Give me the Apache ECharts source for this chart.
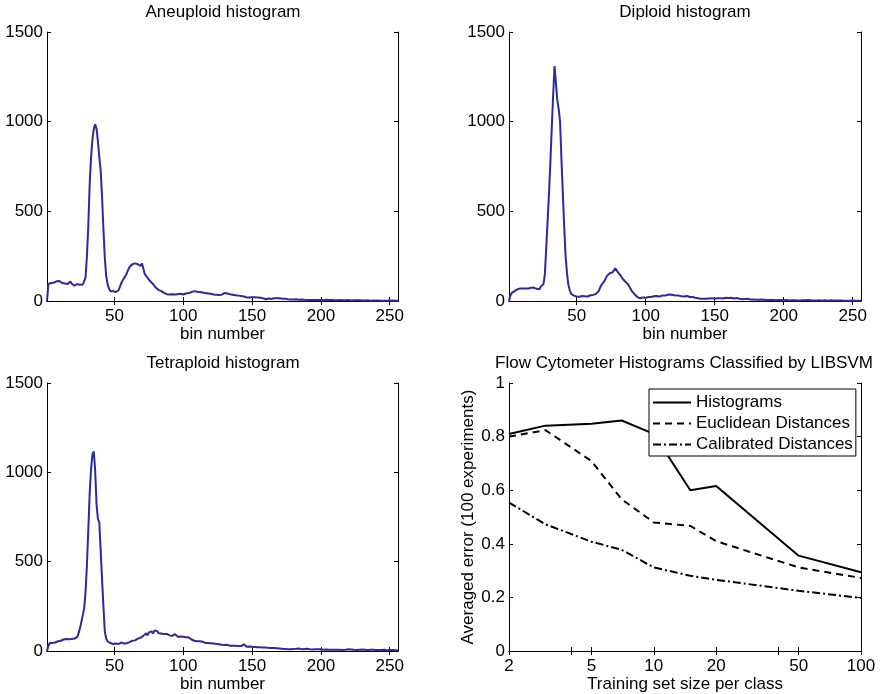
<!DOCTYPE html>
<html>
<head>
<meta charset="utf-8">
<script src="https://cdn.jsdelivr.net/npm/echarts@6/dist/echarts.min.js"></script>
<style>
  html, body { margin: 0; padding: 0; background: #fff; }
  #view { width: 882px; height: 694px; }
</style>
</head>
<body>
<div id="view"></div>
<script>
// histogram counts per bin (bins 1..256)
var aneuploid = [
    0, 95, 98, 100, 97, 102, 105, 110, 104, 112,
    108, 100, 110, 98, 105, 95, 100, 108, 96, 90,
    85, 92, 95, 88, 90, 93, 92, 95, 130, 250,
    420, 650, 800, 900, 960, 985, 960, 890, 800, 730,
    580, 400, 240, 140, 95, 70, 55, 50, 55, 48,
    50, 55, 60, 80, 100, 115, 125, 140, 155, 175,
    190, 180, 205, 212, 210, 208, 205, 200, 195, 210,
    205, 150, 140, 130, 120, 110, 100, 95, 85, 75,
    70, 62, 60, 55, 50, 45, 40, 38, 35, 36,
    34, 38, 35, 36, 40, 38, 35, 40, 38, 36,
    40, 42, 45, 44, 48, 50, 52, 55, 50, 52,
    48, 50, 45, 47, 42, 44, 40, 42, 38, 40,
    38, 36, 40, 35, 38, 34, 36, 35, 38, 45,
    48, 42, 40, 38, 36, 35, 34, 32, 34, 30,
    30, 28, 26, 25, 22, 20, 22, 20, 22, 21,
    20, 21, 18, 20, 22, 18, 17, 15, 12, 10,
    12, 14, 10, 11, 12, 15, 18, 16, 14, 15,
    12, 13, 10, 12, 11, 10, 12, 9, 10, 8,
    9, 10, 8, 7, 8, 9, 6, 7, 8, 6,
    7, 6, 8, 5, 7, 6, 5, 6, 7, 5,
    6, 4, 5, 7, 5, 6, 4, 5, 6, 4,
    5, 4, 6, 5, 3, 4, 5, 4, 3, 5,
    4, 3, 5, 4, 3, 4, 3, 4, 5, 3,
    4, 3, 2, 4, 3, 2, 4, 3, 2, 3,
    2, 3, 4, 2, 3, 2, 3, 2, 3, 2,
    2, 3, 2, 2, 3, 2
];
var diploid = [
    0, 30, 45, 50, 55, 62, 65, 68, 70, 68,
    70, 72, 70, 72, 70, 72, 74, 72, 75, 70,
    68, 75, 65, 80, 85, 95, 150, 300, 450, 600,
    780, 970, 1150, 1310, 1320, 1120, 1070, 1000, 790, 600,
    415, 250, 155, 90, 60, 40, 33, 30, 28, 25,
    26, 24, 25, 28, 24, 26, 28, 25, 30, 32,
    30, 34, 36, 40, 45, 55, 75, 90, 95, 110,
    125, 140, 150, 155, 165, 160, 170, 182, 175, 160,
    150, 140, 128, 120, 110, 105, 95, 85, 70, 55,
    45, 38, 30, 22, 18, 15, 17, 20, 22, 18,
    20, 22, 25, 22, 24, 26, 25, 28, 26, 25,
    28, 30, 32, 30, 33, 35, 34, 36, 35, 33,
    32, 30, 28, 30, 28, 26, 27, 25, 26, 28,
    24, 22, 20, 22, 20, 18, 16, 15, 14, 13,
    12, 13, 14, 12, 15, 14, 13, 16, 15, 12,
    14, 15, 13, 16, 18, 14, 15, 18, 20, 17,
    22, 18, 15, 14, 20, 17, 15, 13, 12, 10,
    12, 11, 10, 12, 9, 8, 10, 9, 8, 7,
    8, 7, 9, 8, 6, 7, 6, 5, 7, 6,
    5, 6, 5, 4, 6, 5, 4, 5, 6, 4,
    4, 5, 4, 3, 5, 4, 3, 4, 5, 3,
    4, 3, 5, 4, 3, 4, 3, 5, 4, 3,
    4, 3, 4, 3, 2, 4, 3, 2, 3, 4,
    3, 2, 3, 4, 2, 3, 2, 3, 2, 3,
    2, 3, 2, 2, 3, 2, 3, 2, 2, 3,
    2, 2, 3, 2, 2, 1
];
var tetraploid = [
    0, 30, 45, 48, 46, 50, 48, 52, 55, 60,
    58, 62, 65, 62, 68, 70, 66, 70, 68, 72,
    70, 72, 80, 100, 130, 165, 200, 240, 330, 480,
    680, 880, 1020, 1100, 1117, 1010, 820, 740, 720, 560,
    400, 250, 110, 70, 55, 50, 45, 42, 40, 44,
    42, 38, 40, 45, 48, 44, 42, 40, 44, 46,
    50, 55, 58, 62, 60, 66, 70, 72, 75, 80,
    85, 90, 100, 88, 105, 95, 110, 98, 115, 105,
    112, 100, 105, 98, 100, 95, 92, 96, 90, 88,
    92, 85, 88, 95, 84, 80, 78, 82, 76, 80,
    75, 78, 72, 76, 68, 65, 62, 58, 60, 55,
    52, 55, 50, 52, 48, 46, 48, 45, 42, 44,
    40, 42, 38, 40, 37, 38, 36, 35, 37, 34,
    33, 35, 32, 30, 31, 30, 28, 30, 27, 28,
    26, 28, 32, 38, 28, 25, 24, 26, 22, 24,
    22, 23, 21, 22, 20, 21, 19, 20, 18, 20,
    19, 18, 17, 18, 16, 17, 15, 16, 14, 15,
    14, 13, 15, 12, 13, 11, 12, 10, 11, 12,
    11, 13, 12, 15, 12, 11, 10, 12, 11, 13,
    12, 10, 11, 9, 10, 11, 9, 10, 8, 10,
    9, 8, 10, 9, 8, 7, 9, 8, 10, 8,
    7, 8, 9, 7, 8, 6, 8, 7, 9, 10,
    12, 9, 8, 7, 8, 6, 7, 8, 7, 9,
    11, 8, 7, 6, 8, 7, 6, 7, 8, 6,
    7, 6, 8, 6, 5, 7, 6, 5, 7, 6,
    5, 6, 8, 5, 6, 4
];
var histTicks = [50, 100, 150, 200, 250];

// LIBSVM classification error vs training set size
var trainSizes = [2, 3, 5, 7, 10, 15, 20, 50, 100];
var errHistograms = [0.81, 0.841, 0.848, 0.86, 0.81, 0.60, 0.616, 0.356, 0.294];
var errEuclidean  = [0.80, 0.824, 0.709, 0.566, 0.48, 0.467, 0.41, 0.312, 0.273];
var errCalibrated = [0.554, 0.473, 0.408, 0.378, 0.312, 0.281, 0.266, 0.225, 0.198];
var sizeLabels = [2, 5, 10, 20, 50, 100];
var sizeTicks = [2, 4, 5, 10, 20, 40, 50, 100];

var FONT = 'Liberation Sans, Arial, Helvetica, sans-serif';
var FS = 17;
var BLUE = '#2e2a9c';

function pairs(counts) {
    return counts.map(function(c, i) { return [i + 1, c]; });
}
function plain(v) { return String(v); }

var grids = [
    {left: 47, top: 32, width: 351, height: 269},
    {left: 509, top: 32, width: 352, height: 269},
    {left: 47, top: 383, width: 351, height: 269},
    {left: 509, top: 383, width: 352, height: 269}
];

var lineAx = {show: true, lineStyle: {color: '#000', width: 1}};
var lbl = {color: '#000', fontSize: FS, fontFamily: FONT};

function histX(gi, pos) {
    return {
        type: 'value', gridIndex: gi, position: pos, min: 1, max: 256,
        axisLine: lineAx,
        axisTick: {inside: true, length: 4, customValues: histTicks, lineStyle: {color: '#000'}},
        axisLabel: pos === 'bottom'
            ? Object.assign({customValues: histTicks, margin: 7, formatter: plain}, lbl)
            : {show: false},
        splitLine: {show: false},
        name: pos === 'bottom' ? 'bin number' : '',
        nameLocation: 'middle', nameGap: 24,
        nameTextStyle: lbl
    };
}
function histY(gi, pos) {
    return {
        type: 'value', gridIndex: gi, position: pos, min: 0, max: 1500, interval: 500,
        axisLine: lineAx,
        axisTick: {inside: true, length: 4, lineStyle: {color: '#000'}},
        axisLabel: pos === 'left' ? Object.assign({margin: 4, formatter: plain}, lbl) : {show: false},
        splitLine: {show: false}
    };
}
function errX(pos) {
    return {
        type: 'log', logBase: 10, gridIndex: 3, position: pos, min: 2, max: 100,
        axisLine: lineAx,
        axisTick: {inside: true, length: 4, customValues: sizeTicks, lineStyle: {color: '#000'}},
        axisLabel: pos === 'bottom'
            ? Object.assign({customValues: sizeLabels, margin: 7, formatter: plain}, lbl)
            : {show: false},
        splitLine: {show: false},
        minorTick: {show: false},
        name: pos === 'bottom' ? 'Training set size per class' : '',
        nameLocation: 'middle', nameGap: 24,
        nameTextStyle: lbl
    };
}
function errY(pos) {
    return {
        type: 'value', gridIndex: 3, position: pos, min: 0, max: 1, interval: 0.2,
        axisLine: lineAx,
        axisTick: {inside: true, length: 4, lineStyle: {color: '#000'}},
        axisLabel: pos === 'left' ? Object.assign({margin: 4, formatter: plain}, lbl) : {show: false},
        splitLine: {show: false},
        name: pos === 'left' ? 'Averaged error (100 experiments)' : '',
        nameLocation: 'middle', nameGap: 32, nameRotate: 90,
        nameTextStyle: lbl
    };
}

function titleAt(text, cx, top) {
    return {text: text, left: cx, top: top, textAlign: 'center', padding: 0,
        textStyle: {color: '#000', fontSize: FS, fontWeight: 'normal', fontFamily: FONT}};
}

function histSeries(name, counts, xi, yi) {
    return {name: name, type: 'line', xAxisIndex: xi, yAxisIndex: yi, data: pairs(counts),
        symbol: 'none', silent: true, lineStyle: {color: BLUE, width: 2}};
}
function errSeries(name, ys, dash) {
    return {name: name, type: 'line', xAxisIndex: 6, yAxisIndex: 6,
        data: trainSizes.map(function(x, i) { return [x, ys[i]]; }),
        symbol: 'none', silent: true,
        itemStyle: {color: 'rgba(0,0,0,0)'},
        lineStyle: {color: '#000', width: 2, type: dash}};
}

var chart = echarts.init(document.getElementById('view'), null, {renderer: 'canvas'});
chart.setOption({
    animation: false,
    backgroundColor: '#fff',
    title: [
        titleAt('Aneuploid histogram', 223, 4),
        titleAt('Diploid histogram', 685, 4),
        titleAt('Tetraploid histogram', 223, 355),
        titleAt('Flow Cytometer Histograms Classified by LIBSVM', 684, 355)
    ],
    grid: grids,
    xAxis: [histX(0, 'bottom'), histX(1, 'bottom'), histX(2, 'bottom'),
            histX(0, 'top'), histX(1, 'top'), histX(2, 'top'),
            errX('bottom'), errX('top')],
    yAxis: [histY(0, 'left'), histY(1, 'left'), histY(2, 'left'),
            histY(0, 'right'), histY(1, 'right'), histY(2, 'right'),
            errY('left'), errY('right')],
    legend: {
        data: ['Histograms', 'Euclidean Distances', 'Calibrated Distances'],
        orient: 'vertical', left: 649, top: 389,
        padding: [5, 3, 3, 3], itemGap: 4, itemWidth: 38, itemHeight: 17,
        backgroundColor: '#fff', borderColor: '#000', borderWidth: 1, borderRadius: 0,
        selectedMode: false,
        itemStyle: {opacity: 0},
        textStyle: {color: '#000', fontSize: FS, fontFamily: FONT}
    },
    series: [
        histSeries('Aneuploid', aneuploid, 0, 0),
        histSeries('Diploid', diploid, 1, 1),
        histSeries('Tetraploid', tetraploid, 2, 2),
        errSeries('Histograms', errHistograms, 'solid'),
        errSeries('Euclidean Distances', errEuclidean, [7, 5]),
        errSeries('Calibrated Distances', errCalibrated, [8, 3, 2, 3])
    ]
});
</script>
</body>
</html>
